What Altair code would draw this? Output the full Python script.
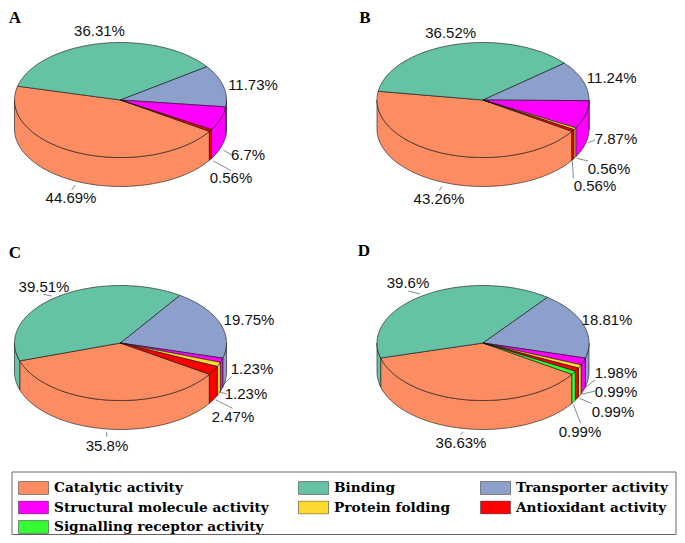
import math
import altair as alt
import pandas as pd

CATEGORIES = ["Catalytic activity", "Binding", "Transporter activity",
              "Structural molecule activity", "Protein folding",
              "Antioxidant activity", "Signalling receptor activity"]
COLORS = ["#FC8D62", "#66C2A5", "#8DA0CB", "#FF00FF", "#FFD92F", "#FF0000", "#33FF33"]

VALUES_A = [44.69, 36.31, 11.73, 6.7, 0, 0.56, 0]
VALUES_B = [43.26, 36.52, 11.24, 7.87, 0.56, 0.56, 0]
VALUES_C = [35.8, 39.51, 19.75, 1.23, 1.23, 2.47, 0]
VALUES_D = [36.63, 39.6, 18.81, 1.98, 0.99, 0.99, 0.99]
PANELS = ["A", "B", "C", "D"]
PANEL_VALUES = [VALUES_A, VALUES_B, VALUES_C, VALUES_D]

# layout (page pixels)
CENTERS = {"A": (120.5, 100), "B": (483, 100), "C": (120.5, 343), "D": (483, 343)}
LETTERS = {"A": (15, 18), "B": (365, 18), "C": (15, 253), "D": (364, 251)}
RX, RY, DEPTH, START = 106, 57.5, 29, 33

LABELS = [
    ("36.31%", 99.5, 31), ("11.73%", 253, 85), ("6.7%", 248, 155), ("0.56%", 231, 178), ("44.69%", 71, 198),
    ("36.52%", 450.7, 32.7), ("11.24%", 611.7, 78), ("7.87%", 616, 139), ("0.56%", 609, 169), ("0.56%", 595, 186), ("43.26%", 439, 199),
    ("39.51%", 44, 287), ("19.75%", 249, 320), ("1.23%", 252, 369), ("1.23%", 246, 394), ("2.47%", 233, 417), ("35.8%", 107, 446),
    ("39.6%", 408, 283), ("18.81%", 607, 320), ("1.98%", 616, 373), ("0.99%", 616, 392), ("0.99%", 613, 412), ("0.99%", 580, 432), ("36.63%", 461, 443),
]
# leaders in zoom-crop units: (crop x, crop y, x0, y0, x1, y1)
LEADERS = [
    (0, 0, 670, 450, 695, 465), (0, 0, 640, 483, 693, 512), (0, 0, 225, 555, 215, 570),
    (340, 0, 745, 428, 765, 420), (340, 0, 710, 475, 745, 483), (340, 0, 697, 483, 700, 535), (340, 0, 305, 560, 298, 572),
    (0, 235, 155, 183, 130, 178), (0, 235, 668, 450, 695, 425), (0, 235, 655, 470, 680, 477), (0, 235, 648, 495, 698, 520), (0, 235, 320, 590, 320, 605),
    (340, 235, 240, 177, 205, 168), (340, 235, 735, 458, 765, 435), (340, 235, 725, 478, 765, 468), (340, 235, 718, 490, 755, 505), (340, 235, 700, 508, 722, 565), (340, 235, 370, 590, 362, 600),
]
LEGEND_BOX = dict(x=12, x2=676, y=472, y2=534.5)

W, H = 669, 527


def ell(panel, deg, drop=0):
    cx, cy = CENTERS[panel]
    a = math.radians(deg)
    return cx + RX * math.cos(a), cy + RY * math.sin(a) + drop


def arc(a, b):
    n = max(2, int(abs(b - a)) + 2)
    return [a + (b - a) * i / (n - 1) for i in range(n)]


walls, tops = [], []
for panel, vals in zip(PANELS, PANEL_VALUES):
    total = sum(vals)
    ang = START
    for cat, v in zip(CATEGORIES, vals):
        if v == 0:
            continue
        a, b = ang, ang + v / total * 360
        ang = b
        sid = f"{panel}-{cat}"
        pts = [(*(CENTERS[panel]),)] + [ell(panel, d) for d in arc(a, b)] + [CENTERS[panel]]
        for i, (x, y) in enumerate(pts):
            tops.append(dict(id=sid, cat=cat, x=x, y=y, o=i))
        for lo, hi in ((a, min(b, 180)), (max(a, 360), min(b, 540))):
            if hi > lo:
                ds = arc(lo, hi)
                pw = [ell(panel, d) for d in ds] + [ell(panel, d, DEPTH) for d in reversed(ds)]
                pw.append(pw[0])
                for i, (x, y) in enumerate(pw):
                    walls.append(dict(id=f"{sid}-{lo:.0f}", cat=cat, x=x, y=y, o=i))

xs = alt.Scale(domain=[8, 8 + W], range=[0, W], nice=False, zero=False)
ys = alt.Scale(domain=[8, 8 + H], range=[0, H], nice=False, zero=False)
X = alt.X("x:Q", scale=xs, axis=None)
Y = alt.Y("y:Q", scale=ys, axis=None)
fill = alt.Fill("cat:N", scale=alt.Scale(domain=CATEGORIES, range=COLORS), sort=CATEGORIES,
                legend=alt.Legend(
                    title=None, orient="none", legendX=10, legendY=473, columns=3, direction="horizontal",
                    symbolType="M-1,-0.43H1V0.43H-1Z", symbolSize=900, symbolStrokeColor="#444",
                    symbolStrokeWidth=0.6, symbolOpacity=1, clipHeight=14, rowPadding=5.5, columnPadding=29,
                    gridAlign="each", labelFont="DejaVu Serif", labelFontWeight="bold", labelFontSize=13.7,
                    labelColor="#000", labelOffset=5, labelLimit=300, padding=0,
                    symbolFillColor="#fff"))


def polys(rows):
    return alt.Chart(pd.DataFrame(rows)).mark_line(stroke="#111", strokeWidth=0.6, interpolate="linear").encode(
        x=X, y=Y, fill=fill, order="o:Q", detail="id:N")


lead = pd.DataFrame([dict(x=cx + x0 / 3, y=cy + y0 / 3, x2=cx + x1 / 3, y2=cy + y1 / 3)
                     for cx, cy, x0, y0, x1, y1 in LEADERS])
labels = pd.DataFrame(LABELS, columns=["t", "x", "y"])
letters = pd.DataFrame([dict(t=k, x=v[0], y=v[1]) for k, v in LETTERS.items()])

layers = [
    alt.Chart(pd.DataFrame([LEGEND_BOX])).mark_rect(fill="#fff", stroke="#666", strokeWidth=1).encode(
        x=X, y=Y, x2="x2:Q", y2="y2:Q"),
    polys(walls),
    polys(tops),
    alt.Chart(lead).mark_rule(color="#555", strokeWidth=0.7).encode(x=X, y=Y, x2="x2:Q", y2="y2:Q"),
    alt.Chart(labels).mark_text(font="Liberation Sans", fontSize=15, color="#111").encode(x=X, y=Y, text="t:N"),
    alt.Chart(letters).mark_text(font="Liberation Serif", fontWeight="bold", fontSize=17, color="#000").encode(x=X, y=Y, text="t:N"),
]
chart = alt.layer(*layers).properties(width=W, height=H, padding=0,
                                      autosize=alt.AutoSizeParams(type="none")).configure_view(stroke=None)
chart.save("out.html", embed_options={"renderer": "svg", "actions": False})
